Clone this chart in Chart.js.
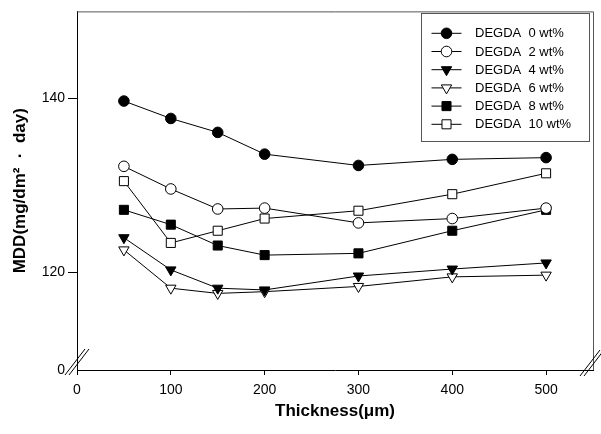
<!DOCTYPE html>
<html>
<head>
<meta charset="utf-8">
<script src="https://cdn.jsdelivr.net/npm/chart.js@4/dist/chart.umd.min.js"></script>
<style>
  body { margin: 0; background: #fff; }
  canvas { display: block; }
</style>
</head>
<body>
<canvas id="canvas" width="601" height="434"></canvas>
<script>
// thickness (um) and MDD values
var thickness = [50, 100, 150, 200, 300, 400, 500];
var degda0 = [139.7, 137.7, 136.1, 133.6, 132.3, 133.0, 133.2];
var degda2 = [132.2, 129.6, 127.3, 127.4, 125.7, 126.2, 127.4];
var degda4 = [124.0, 120.3, 118.2, 118.0, 119.6, 120.4, 121.1];
var degda6 = [122.6, 118.2, 117.6, 117.8, 118.4, 119.5, 119.7];
var degda8 = [127.2, 125.5, 123.1, 122.0, 122.2, 124.8, 127.2];
var degda10 = [130.5, 123.4, 124.8, 126.2, 127.1, 129.0, 131.4];
var seriesLabels = ['DEGDA  0 wt%', 'DEGDA  2 wt%', 'DEGDA  4 wt%', 'DEGDA  6 wt%', 'DEGDA  8 wt%', 'DEGDA  10 wt%'];
var xTicks = [0, 100, 200, 300, 400, 500];
var yTicks = [120, 140];
var yBreakMin = 108.8; // bottom of broken axis, shown as "0"

var FONT = '"Liberation Sans", Arial, sans-serif';

function pts(vals) {
    return vals.map(function (v, i) { return { x: thickness[i], y: v }; });
}

var styles = [
    { pointStyle: 'circle', radius: 5.3, rotation: 0, fill: '#000' },
    { pointStyle: 'circle', radius: 5.3, rotation: 0, fill: '#fff' },
    { pointStyle: 'triangle', radius: 6, rotation: 180, fill: '#000' },
    { pointStyle: 'triangle', radius: 6, rotation: 180, fill: '#fff' },
    { pointStyle: 'rect', radius: 6.4, rotation: 0, fill: '#000' },
    { pointStyle: 'rect', radius: 6.4, rotation: 0, fill: '#fff' }
];
var allData = [degda0, degda2, degda4, degda6, degda8, degda10];

var datasets = allData.map(function (vals, i) {
    var s = styles[i];
    return {
        label: seriesLabels[i],
        data: pts(vals),
        borderColor: '#000',
        borderWidth: 1,
        pointStyle: s.pointStyle,
        pointRadius: s.radius,
        pointRotation: s.rotation,
        pointBackgroundColor: s.fill,
        pointBorderColor: '#000',
        pointBorderWidth: 1,
        fill: false,
        tension: 0
    };
});

// frame, axis breaks and the boxed legend
var extras = {
    id: 'extras',
    afterDraw: function (chart) {
        var ctx = chart.ctx;
        var a = chart.chartArea;
        ctx.save();
        ctx.strokeStyle = '#555';
        ctx.lineWidth = 1;
        ctx.beginPath();
        ctx.moveTo(a.left, a.top + 0.5);
        ctx.lineTo(a.right + 0.5, a.top + 0.5);
        ctx.lineTo(a.right + 0.5, a.bottom);
        ctx.stroke();

        // break marks
        function brk(cx, cy) {
            ctx.fillStyle = '#fff';
            ctx.strokeStyle = '#000';
            [-2, 2].forEach(function (d) {
                ctx.beginPath();
                ctx.moveTo(cx + d - 10, cy + 13);
                ctx.lineTo(cx + d + 10, cy - 13);
                ctx.stroke();
            });
        }
        brk(a.left, a.bottom - 8);
        brk(a.right - 1, a.bottom - 7);

        // legend
        var lx = 421.5, ly = 13.5, lw = 168, lh = 128;
        ctx.fillStyle = '#fff';
        ctx.fillRect(lx, ly, lw, lh);
        ctx.strokeStyle = '#555';
        ctx.strokeRect(lx, ly, lw, lh);
        ctx.font = '13px ' + FONT;
        ctx.textBaseline = 'middle';
        chart.data.datasets.forEach(function (ds, i) {
            var y = 33.3 + i * 18.2;
            ctx.strokeStyle = '#000';
            ctx.beginPath();
            ctx.moveTo(431.5, y);
            ctx.lineTo(461.5, y);
            ctx.stroke();
            ctx.fillStyle = ds.pointBackgroundColor;
            Chart.helpers.drawPoint(ctx, {
                pointStyle: ds.pointStyle,
                radius: ds.pointRadius,
                rotation: ds.pointRotation,
                borderWidth: 1
            }, 446.5, y);
            ctx.fillStyle = '#000';
            ctx.fillText(ds.label, 475, y + 0.5);
        });
        ctx.restore();
    }
};

var ctx = document.getElementById('canvas').getContext('2d');
var myChart = new Chart(ctx, {
    type: 'line',
    data: { datasets: datasets },
    options: {
        responsive: false,
        animation: false,
        devicePixelRatio: 1,
        layout: { padding: { top: 9, right: 8, left: 0, bottom: 0 } },
        plugins: {
            legend: { display: false },
            tooltip: { enabled: false }
        },
        scales: {
            x: {
                type: 'linear',
                min: 0,
                max: 550,
                afterBuildTicks: function (s) {
                    s.ticks = xTicks.map(function (v) { return { value: v }; });
                },
                afterFit: function (s) { s.height = 64; },
                grid: { drawOnChartArea: false, tickLength: 5, color: '#000' },
                border: { color: '#000', width: 1 },
                ticks: { color: '#000', padding: 7, maxRotation: 0, font: { family: FONT, size: 14 } },
                title: {
                    display: true,
                    text: 'Thickness(\u03bcm)',
                    color: '#000',
                    padding: { top: 0, bottom: 12 },
                    font: { family: FONT, size: 17, weight: 'bold' }
                }
            },
            y: {
                min: yBreakMin,
                max: 150,
                afterBuildTicks: function (s) {
                    s.ticks = [{ value: yBreakMin }].concat(yTicks.map(function (v) { return { value: v }; }));
                },
                afterFit: function (s) { s.width = 77; },
                grid: {
                    drawOnChartArea: false,
                    tickLength: 9,
                    color: function (c) { return c.tick && c.tick.value === yBreakMin ? 'rgba(0,0,0,0)' : '#000'; }
                },
                border: { color: '#000', width: 1 },
                ticks: {
                    color: '#000',
                    padding: 3,
                    font: { family: FONT, size: 14 },
                    callback: function (v) { return v === yBreakMin ? '0' : v; }
                },
                title: {
                    display: true,
                    text: 'MDD(mg/dm\u00b2  \u00b7  day)',
                    color: '#000',
                    padding: { top: 10, bottom: 0 },
                    font: { family: FONT, size: 17, weight: 'bold' }
                }
            }
        }
    },
    plugins: [extras]
});
</script>
</body>
</html>
